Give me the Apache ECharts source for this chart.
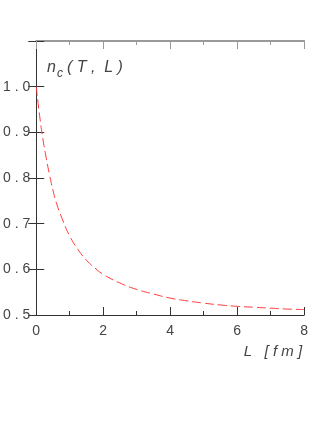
<!DOCTYPE html>
<html><head><meta charset="utf-8">
<script src="https://cdn.jsdelivr.net/npm/echarts@6/dist/echarts.min.js"></script>
<style>html,body{margin:0;padding:0;background:#fff}#c{width:311px;height:444px}</style>
</head><body><div id="c"></div>
<script>
const L_values = [0, 0.1, 0.2, 0.3, 0.4, 0.5, 0.6, 0.8, 1.0, 1.25, 1.5, 1.75, 2.0, 2.5, 3.0, 3.5, 4.0, 4.5, 5.0, 5.5, 6.0, 6.5, 7.0, 7.5, 8.0];
const nc_values = [1.000, 0.937, 0.885, 0.843, 0.806, 0.773, 0.746, 0.706, 0.673, 0.643, 0.620, 0.603, 0.589, 0.570, 0.556, 0.546, 0.537, 0.531, 0.526, 0.522, 0.519, 0.517, 0.515, 0.513, 0.512];
const xTicks = [0, 2, 4, 6, 8];
const yTicks = [0.5, 0.6, 0.7, 0.8, 0.9, 1.0];

const chart = echarts.init(document.getElementById('c'), null, {renderer: 'canvas'});
const font = 'Liberation Sans';
const dark = '#333';
const grey = '#999';
const data = L_values.map((l, i) => [l, nc_values[i]]);

chart.setOption({
  animation: false,
  grid: {left: 33, top: 41, right: 4, bottom: 129, containLabel: false},
  xAxis: [{
    type: 'value', min: 0, max: 8, interval: 2, position: 'bottom',
    axisLine: {show: true, lineStyle: {color: dark, width: 1}},
    axisTick: {show: true, inside: true, length: 8, lineStyle: {color: dark}},
    minorTick: {show: true, splitNumber: 2, length: 4, lineStyle: {color: dark}},
    splitLine: {show: false}, minorSplitLine: {show: false},
    axisLabel: {show: true, margin: 9, fontFamily: font, fontSize: 14, color: '#444',
      formatter: v => xTicks.includes(v) ? String(v) : ''},
    name: 'L   [ f m ]', nameLocation: 'end', nameGap: 0,
    nameTextStyle: {fontFamily: font, fontSize: 15, fontStyle: 'italic', color: '#444',
      align: 'right', verticalAlign: 'top', padding: [29, 2, 0, 0]}
  }, {
    type: 'value', min: 0, max: 8, interval: 2, position: 'top',
    axisLine: {show: true, lineStyle: {color: grey, width: 2}},
    axisTick: {show: true, inside: true, length: 8, lineStyle: {color: grey}},
    minorTick: {show: true, splitNumber: 2, length: 4, lineStyle: {color: grey}},
    splitLine: {show: false}, axisLabel: {show: false}
  }],
  yAxis: [{
    type: 'value', min: 0.5, max: 1.1, interval: 0.1, position: 'left',
    axisLine: {show: true, lineStyle: {color: dark, width: 1}},
    axisTick: {show: true, inside: true, length: 8, lineStyle: {color: dark}},
    splitLine: {show: false},
    axisLabel: {show: true, margin: 6, fontFamily: font, fontSize: 14, color: '#444',
      formatter: v => {
        const r = Math.round(v * 10) / 10;
        return yTicks.some(t => Math.abs(t - r) < 1e-9) ? r.toFixed(1).replace('.', ' . ') : '';
      }}
  }, {
    type: 'value', min: 0.5, max: 1.1, interval: 0.1, position: 'right',
    axisLine: {show: true, lineStyle: {color: dark, width: 1}},
    axisTick: {show: true, inside: true, length: 8, lineStyle: {color: dark}},
    splitLine: {show: false}, axisLabel: {show: false}
  }],
  graphic: [{
    type: 'text', left: 47, top: 60,
    style: {
      text: '{n|n}{s|c}{n|( T ,  L )}',
      rich: {
        n: {fontFamily: font, fontSize: 16, fontStyle: 'italic', fill: '#444', padding: [0, 1, 0, 0]},
        s: {fontFamily: font, fontSize: 12, fontStyle: 'italic', fill: '#444', padding: [12, 4, 0, 0]}
      }
    }
  }],
  series: [{
    type: 'line', xAxisIndex: 0, yAxisIndex: 0, data: data,
    smooth: true, showSymbol: false, symbol: 'none',
    lineStyle: {color: '#ff3a3a', width: 1, type: [9, 4]}
  }]
});
</script></body></html>
